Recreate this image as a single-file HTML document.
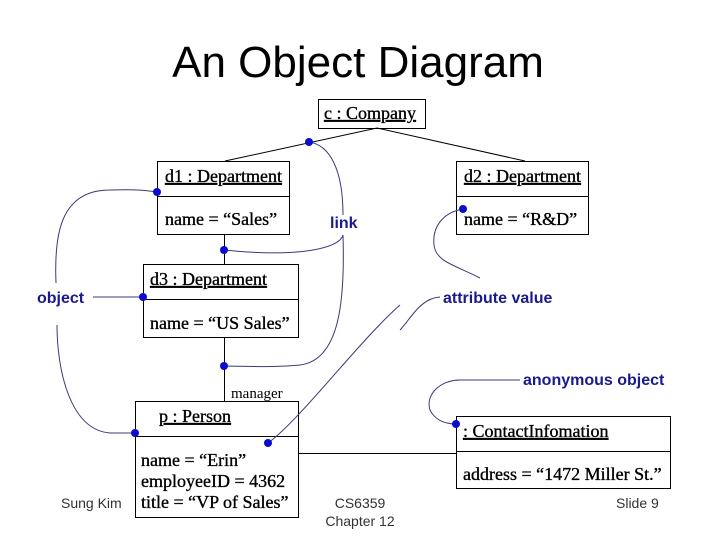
<!DOCTYPE html>
<html><head><meta charset="utf-8"><style>
html,body{margin:0;padding:0;background:#fff;}
svg{display:block;}
.t{font-family:"Liberation Serif",serif;font-size:18px;fill:#000;stroke:#000;stroke-width:0.35;}
.a{font-family:"Liberation Sans",sans-serif;font-size:16px;font-weight:bold;fill:#1a1a8c;}
.s{font-family:"Liberation Sans",sans-serif;font-size:14px;fill:#333;}
</style></head><body>
<svg width="720" height="540" viewBox="0 0 720 540" xmlns="http://www.w3.org/2000/svg">
<text x="358" y="77" text-anchor="middle" font-family="Liberation Sans, sans-serif" font-size="44" fill="#000">An Object Diagram</text>
<g fill="#fff" stroke="#000" stroke-width="1">
<rect x="318.5" y="99.5" width="107" height="29"/>
<rect x="157.5" y="161.5" width="132" height="73"/>
<rect x="456.5" y="161.5" width="132" height="73"/>
<rect x="143.5" y="264.5" width="155" height="73"/>
<rect x="135.5" y="401.5" width="163" height="116"/>
<rect x="456.5" y="416.5" width="214" height="72"/>
</g>
<g stroke="#000" stroke-width="1" fill="none">
<line x1="157" y1="196.5" x2="289" y2="196.5"/>
<line x1="456" y1="196.5" x2="588" y2="196.5"/>
<line x1="143" y1="299.5" x2="298" y2="299.5"/>
<line x1="135" y1="436.5" x2="298" y2="436.5"/>
<line x1="456" y1="451.5" x2="670" y2="451.5"/>
<polyline points="225,161 377,128 525,161"/>
<line x1="224.5" y1="234" x2="224.5" y2="264"/>
<line x1="224.5" y1="337" x2="224.5" y2="401"/>
<line x1="298" y1="453.5" x2="456" y2="453.5"/>
</g>
<g stroke="#3a3a7a" stroke-width="1" fill="none">
<path d="M309,142 C330,145 343,170 343,215"/>
<path d="M343,235 C340,248 300,258 224,250"/>
<path d="M343,235 C345,300 340,360 300,365 C270,368 240,366 224,366"/>
<path d="M400,305 C360,340 300,420 268,443"/>
<path d="M56,283 C54,235 60,190 110,190 C140,189 150,191 157,192"/>
<path d="M93,297 L143,297"/>
<path d="M57,325 C57,370 70,430 110,433 L135,433"/>
<path d="M463,209 C445,212 432,225 434,245 C436,262 455,265 480,278"/>
<path d="M440,297 C420,298 410,320 400,330"/>
<path d="M520,380 L460,380 C440,380 425,395 430,410 C435,420 445,424 456,424"/>
</g>
<g fill="#0b0bcf">
<circle cx="309" cy="142" r="4"/>
<circle cx="157" cy="192" r="4"/>
<circle cx="463" cy="209" r="4"/>
<circle cx="224" cy="250" r="4"/>
<circle cx="143" cy="297" r="4"/>
<circle cx="224" cy="366" r="4"/>
<circle cx="135" cy="433" r="4"/>
<circle cx="268" cy="443" r="4"/>
<circle cx="456" cy="424" r="4"/>
</g>
<g class="t">
<text x="324" y="119" text-decoration="underline">c : Company</text>
<text x="165" y="182" text-decoration="underline">d1 : Department</text>
<text x="464" y="182" text-decoration="underline">d2 : Department</text>
<text x="150" y="285" text-decoration="underline">d3 : Department</text>
<text x="159" y="422" text-decoration="underline">p : Person</text>
<text x="463" y="437" text-decoration="underline">: ContactInfomation</text>
</g>
<g class="t">
<text x="165" y="225">name = “Sales”</text>
<text x="464" y="225">name = “R&amp;D”</text>
<text x="150" y="329">name = “US Sales”</text>
<text x="141" y="466">name = “Erin”</text>
<text x="141" y="487">employeeID = 4362</text>
<text x="141" y="508">title = “VP of Sales”</text>
<text x="463" y="480">address = “1472 Miller St.”</text>
<text x="231" y="398" font-size="15" stroke-width="0">manager</text>
</g>
<g class="a">
<text x="330" y="228">link</text>
<text x="37" y="303">object</text>
<text x="443" y="303">attribute value</text>
<text x="523" y="385">anonymous object</text>
</g>
<g class="s">
<text x="61" y="508">Sung Kim</text>
<text x="360" y="508" text-anchor="middle">CS6359</text>
<text x="360" y="526" text-anchor="middle">Chapter 12</text>
<text x="616" y="508">Slide 9</text>
</g>
</svg>
</body></html>
